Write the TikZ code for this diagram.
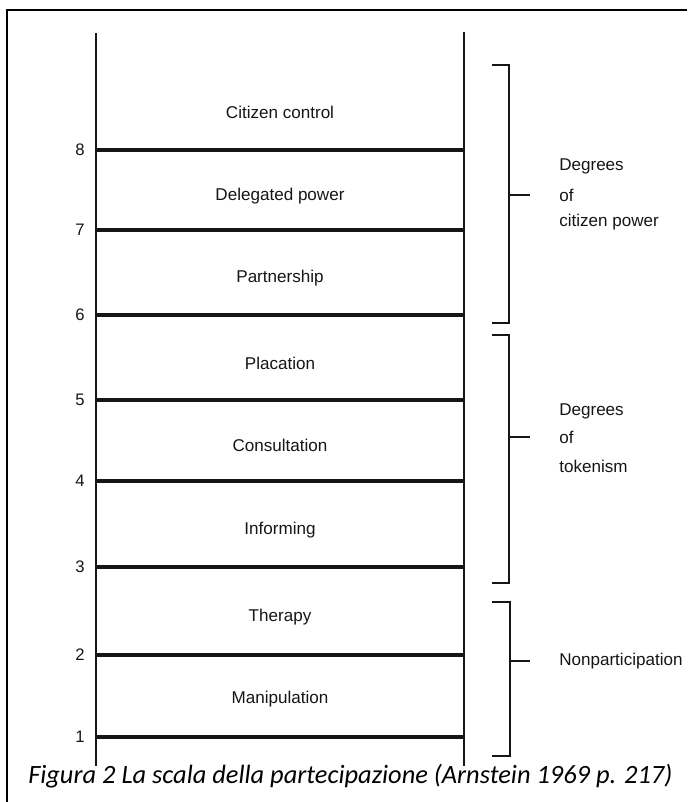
\documentclass[tikz,border=0pt]{standalone}
\usepackage{fontspec}
\setmainfont{Liberation Sans}
\newfontfamily\capfont{Carlito}
\definecolor{ink}{HTML}{161616}
\begin{document}
\begin{tikzpicture}[x=0.75pt,y=-0.75pt,
  rail/.style={line width=2.2pt,draw=ink},
  rung/.style={line width=3pt,draw=ink},
  brack/.style={line width=2.1pt,draw=ink},
  frame/.style={line width=1.6pt,draw=black},
  lab/.style={font=\fontsize{12.8}{15}\selectfont,text=ink,inner sep=0pt},
  num/.style={font=\fontsize{12.5}{15}\selectfont,text=ink,inner sep=0pt},
  side/.style={font=\fontsize{12.8}{15}\selectfont,text=ink,inner sep=0pt,anchor=west}]
\useasboundingbox (0,0) rectangle (687,802);
\fill[white] (0,0) rectangle (687,802);
% frame
\coordinate (fbl) at (7,802);
\coordinate (ftl) at (7,10);
\coordinate (ftr) at (687,10);
\draw[frame] (fbl) -- (ftl) -- (ftr);
% rails
\coordinate (lt) at (96,33);
\coordinate (lb) at (96,766);
\coordinate (rt) at (464,32);
\coordinate (rb) at (464,766);
\draw[rail] (lt) -- (lb);
\draw[rail] (rt) -- (rb);
% rungs
\foreach \n/\y in {8/150,7/230,6/315,5/400,4/481,3/567,2/655,1/737}{
  \coordinate (rl\n) at (96,\y);
  \coordinate (rr\n) at (464,\y);
  \draw[rung] (rl\n) -- (rr\n);
  \node[num] (n\n) at (80,\y) {\n};
}
% rung labels
\node[lab] (l8) at (280,112) {Citizen control};
\node[lab] (l7) at (280,196) {Delegated power};
\node[lab] (l6) at (280,278) {Partnership};
\node[lab] (l5) at (280,363) {Placation};
\node[lab] (l4) at (280,445) {Consultation};
\node[lab] (l3) at (280,530) {Informing};
\node[lab] (l2) at (280,617) {Therapy};
\node[lab] (l1) at (280,699) {Manipulation};
% brackets
\coordinate (a1) at (492,65);  \coordinate (a2) at (509,65);
\coordinate (a3) at (509,323); \coordinate (a4) at (492,323);
\coordinate (am) at (509,195); \coordinate (at) at (530,195);
\draw[brack] (a1) -- (a2) -- (a3) -- (a4);
\draw[brack] (am) -- (at);
\coordinate (b1) at (492,335); \coordinate (b2) at (509,335);
\coordinate (b3) at (509,583); \coordinate (b4) at (492,583);
\coordinate (bm) at (509,437); \coordinate (bt) at (530,437);
\draw[brack] (b1) -- (b2) -- (b3) -- (b4);
\draw[brack] (bm) -- (bt);
\coordinate (c1) at (492,602); \coordinate (c2) at (510,602);
\coordinate (c3) at (510,756); \coordinate (c4) at (492,756);
\coordinate (cm) at (510,661); \coordinate (ct) at (530,661);
\draw[brack] (c1) -- (c2) -- (c3) -- (c4);
\draw[brack] (cm) -- (ct);
% side labels
\node[side] (s1a) at (559,166) {Degrees};
\node[side] (s1b) at (559,195) {of};
\node[side] (s1c) at (559,222) {citizen power};
\node[side] (s2a) at (559,411) {Degrees};
\node[side] (s2b) at (559,437) {of};
\node[side] (s2c) at (559,466) {tokenism};
\node[side] (s3) at (559,661) {Nonparticipation};
% caption
\node[font=\capfont\itshape\fontsize{19.8}{23}\selectfont,text=black,inner sep=0pt,anchor=base west] (cap) at (28,783) {Figura 2 La scala della partecipazione (Arnstein 1969 p. 217)};
\end{tikzpicture}
\end{document}
